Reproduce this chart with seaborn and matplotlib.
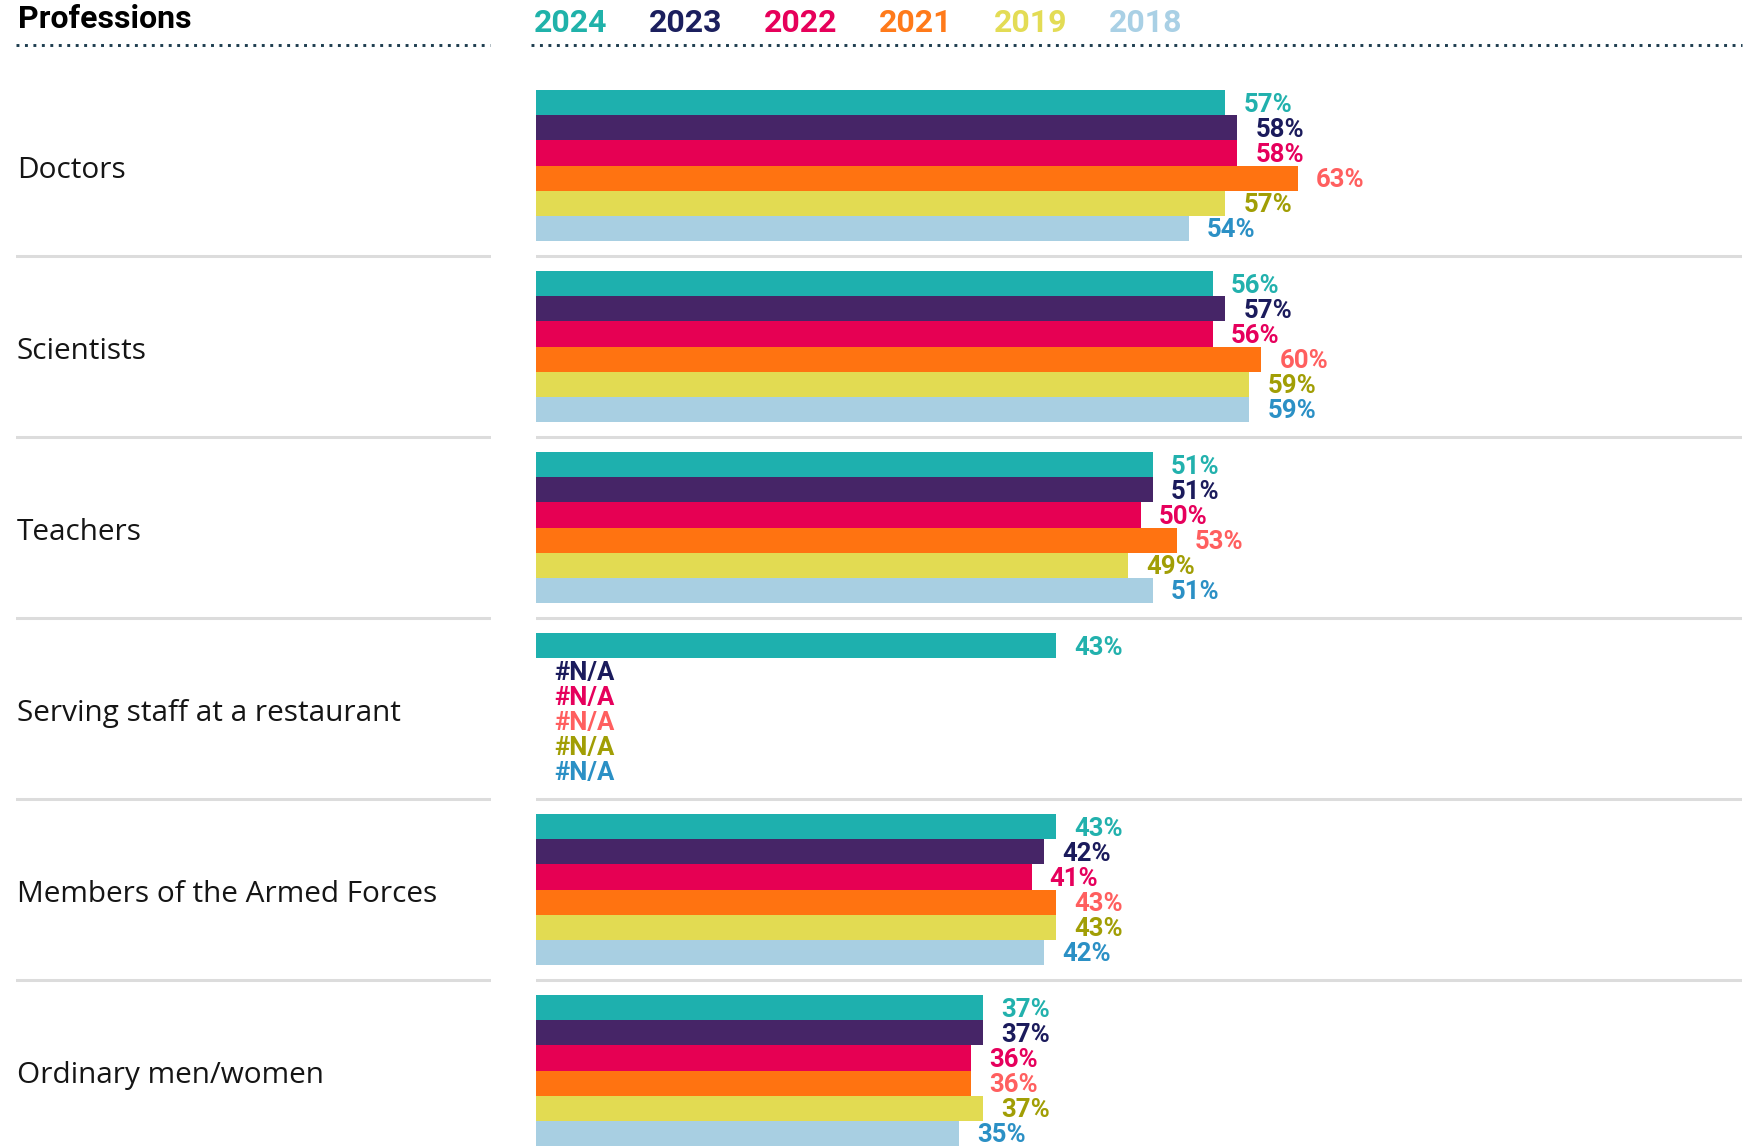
import pandas as pd
import matplotlib
matplotlib.use("Agg")
import matplotlib.pyplot as plt
from matplotlib.lines import Line2D
import seaborn as sns
import numpy as np

professions = ["Doctors", "Scientists", "Teachers", "Serving staff at a restaurant",
               "Members of the Armed Forces", "Ordinary men/women"]
years = ["2024", "2023", "2022", "2021", "2019", "2018"]

v2024 = [57, 56, 51, 43, 43, 37]
v2023 = [58, 57, 51, np.nan, 42, 37]
v2022 = [58, 56, 50, np.nan, 41, 36]
v2021 = [63, 60, 53, np.nan, 43, 36]
v2019 = [57, 59, 49, np.nan, 43, 37]
v2018 = [54, 59, 51, np.nan, 42, 35]

bar_colors = ["#1eb0ae", "#462567", "#e60053", "#ff7311", "#e2db52", "#a8cfe2"]
label_colors = ["#22b1ad", "#1b1b5c", "#e6005c", "#ff5f5f", "#a19e05", "#2b90c5"]
legend_colors = ["#20b2aa", "#1b1f5e", "#e6005a", "#ff7a1a", "#e3dc55", "#a9d0e5"]

rows = []
for yr, vals in zip(years, [v2024, v2023, v2022, v2021, v2019, v2018]):
    for p, v in zip(professions, vals):
        rows.append({"profession": p, "year": yr, "value": v})
df = pd.DataFrame(rows)
df["plot_value"] = df["value"].fillna(0)

plt.rcParams['font.family'] = ['Roboto', 'DejaVu Sans']

W, H = 1757, 1148
fig = plt.figure(figsize=(W / 100, H / 100), dpi=100)

def fx(px):
    return px / W

def fy(py):
    return 1 - py / H

# axes geometry (pixels)
top_px, pitch = 75, 181
ylim = (5.42, -0.5)
ax_h = (ylim[0] - ylim[1]) * pitch
ax = fig.add_axes([fx(536), fy(top_px + ax_h), fx(1742) - fx(536), ax_h / H])

sns.barplot(data=df, x="plot_value", y="profession", hue="year", hue_order=years,
            order=professions, palette=bar_colors, orient="h", width=0.83,
            saturation=1, legend=False, errorbar=None, linewidth=0, ax=ax)

for cont, yr, col in zip(ax.containers, years, label_colors):
    vals = df[df["year"] == yr].set_index("profession").loc[professions, "value"]
    labels = ["#N/A" if np.isnan(v) else f"{v:.0f}%" for v in vals]
    texts = ax.bar_label(cont, labels=labels, padding=13, color=col, fontsize=18.5,
                         fontweight="bold")
    for t in texts:
        t.xyann = (t.xyann[0], -1.5)

ax.set_xlim(0, 99.75)
ax.set_ylim(*ylim)
ax.axis("off")
for i in range(len(professions) - 1):
    ax.axhline(i + 0.5, color="#dcdcdc", lw=2.2, zorder=0)

# left label column
ax_l = fig.add_axes([fx(16), fy(top_px + ax_h), fx(491) - fx(16), ax_h / H])
ax_l.set_xlim(0, 1)
ax_l.set_ylim(*ylim)
ax_l.axis("off")
for i, p in enumerate(professions):
    ax_l.text(0.002, i + 0.03, p, va="center", ha="left", fontsize=21.4,
              color="#151515", family=["Open Sans", "DejaVu Sans"])
for i in range(len(professions) - 1):
    ax_l.axhline(i + 0.5, color="#dcdcdc", lw=2.2, zorder=0)

# header
fig.text(fx(18), fy(19), "Professions", fontsize=23, fontweight="bold",
         va="center", ha="left", color="#000000")
for k, (yr, col) in enumerate(zip(years, legend_colors)):
    fig.text(fx(534 + k * 115), fy(23), yr, fontsize=23, fontweight="bold",
             va="center", ha="left", color=col)

for x0, x1 in [(16, 490), (531, 1742)]:
    fig.add_artist(Line2D([fx(x0), fx(x1)], [fy(45), fy(45)], transform=fig.transFigure,
                          color="#1d3c4e", lw=2.1, linestyle=(0, (1, 1.9)),
                          dash_capstyle="butt"))

fig.savefig("out.png", dpi=100)
